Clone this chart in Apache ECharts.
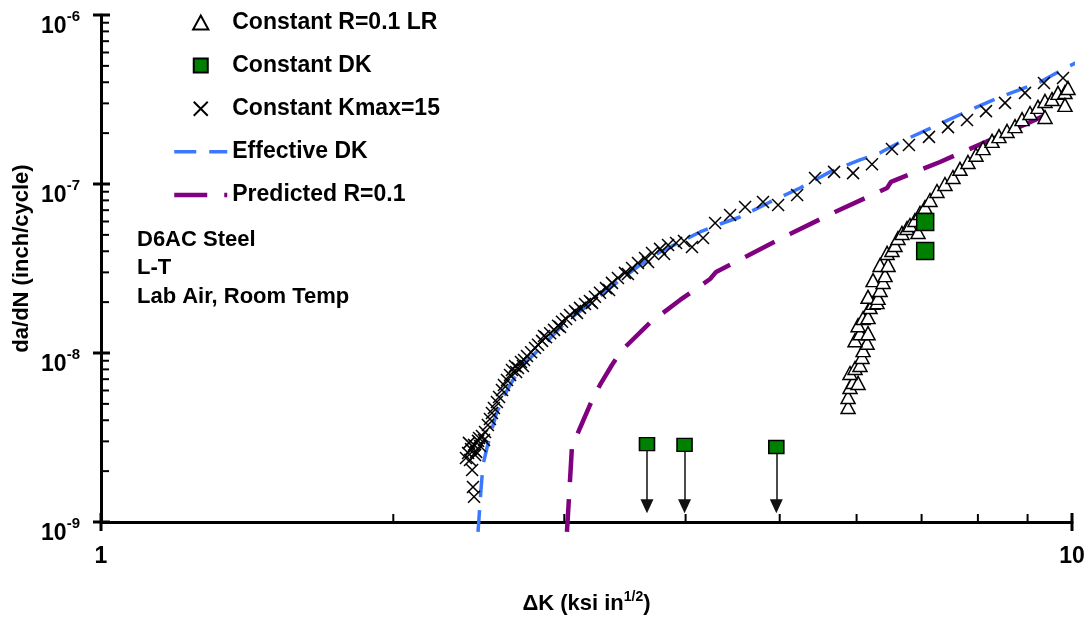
<!DOCTYPE html>
<html>
<head>
<meta charset="utf-8">
<title>D6AC Steel fatigue crack growth</title>
<script src="https://cdn.jsdelivr.net/npm/echarts@6/dist/echarts.min.js"></script>
<style>
html, body { margin: 0; padding: 0; background: #fff; }
#chart { width: 1089px; height: 617px; }
</style>
</head>
<body>
<div id="chart"></div>
<script>
// ---- axis ticks (log decades and their 2..9 subdivisions) ----
const X_MAJOR_TICKS = [1, 10];
const X_MINOR_TICKS = [2, 3, 4, 5, 6, 7, 8, 9];
const Y_DECADES = [1e-9, 1e-8, 1e-7, 1e-6];
const Y_MINOR_MANTISSAS = [2, 3, 4, 5, 6, 7, 8, 9];

// ---- measured data: [ΔK (ksi·in^1/2), da/dN (inch/cycle)] ----
const KMAX15 = [
  [2.422,1.41e-9],[2.416,1.61e-9],[2.411,2.03e-9],[2.399,2.33e-9],[2.376,2.39e-9],[2.388,2.56e-9],
  [2.428,2.49e-9],[2.434,2.60e-9],[2.405,2.70e-9],[2.393,2.94e-9],[2.422,2.86e-9],[2.457,2.82e-9],
  [2.445,3.02e-9],[2.480,3.06e-9],[2.451,3.14e-9],[2.468,3.23e-9],[2.486,3.41e-9],[2.503,3.75e-9],
  [2.515,4.07e-9],[2.527,4.42e-9],[2.539,4.73e-9],[2.557,5.13e-9],[2.570,5.49e-9],[2.588,6.04e-9],
  [2.600,6.47e-9],[2.619,6.92e-9],[2.638,7.41e-9],[2.650,7.93e-9],[2.669,8.38e-9],[2.676,7.72e-9],
  [2.688,8.15e-9],[2.707,8.85e-9],[2.720,8.38e-9],[2.727,9.09e-9],[2.746,9.60e-9],[2.773,1.01e-8],
  [2.799,1.07e-8],[2.819,1.12e-8],[2.846,1.18e-8],[2.859,1.26e-8],[2.873,1.24e-8],[2.901,1.31e-8],
  [2.928,1.37e-8],[2.956,1.45e-8],[2.970,1.425e-8],[2.984,1.53e-8],[3.013,1.59e-8],[3.041,1.68e-8],
  [3.077,1.77e-8],[3.092,1.725e-8],[3.114,1.85e-8],[3.151,1.95e-8],[3.188,2.03e-8],[3.204,1.98e-8],
  [3.226,2.15e-8],[3.265,2.27e-8],[3.312,2.42e-8],[3.336,2.36e-8],[3.359,2.60e-8],[3.407,2.78e-8],
  [3.464,2.98e-8],[3.489,2.935e-8],[3.523,3.18e-8],[3.573,3.41e-8],[3.633,3.65e-8],[3.659,3.455e-8],
  [3.694,3.91e-8],[3.765,4.13e-8],[3.801,3.85e-8],[3.837,4.36e-8],[3.911,4.48e-8],[3.985,4.60e-8],
  [4.061,4.24e-8],[4.169,4.79e-8],[4.290,5.88e-8],[4.445,6.55e-8],[4.606,7.31e-8],[4.806,7.83e-8],
  [4.981,7.51e-8],[5.211,8.61e-8],[5.437,1.085e-7],[5.688,1.18e-7],[5.950,1.16e-7],[6.223,1.31e-7],
  [6.525,1.61e-7],[6.793,1.70e-7],[7.124,1.90e-7],[7.452,2.17e-7],[7.796,2.39e-7],[8.155,2.70e-7],
  [8.531,3.02e-7],[8.945,3.46e-7],[9.357,3.96e-7],[9.789,4.24e-7]
];

const R01_LR = [
  [5.880,4.79e-9],[5.880,5.49e-9],[5.907,6.29e-9],[5.950,6.74e-9],[6.021,6.65e-9],[5.907,7.61e-9],
  [5.978,8.15e-9],[6.049,8.49e-9],[6.078,9.47e-9],[6.093,1.04e-8],[6.151,1.15e-8],[5.978,1.19e-8],
  [6.049,1.31e-8],[6.165,1.31e-8],[6.021,1.46e-8],[6.093,1.61e-8],[6.165,1.63e-8],[6.194,1.87e-8],
  [6.239,1.98e-8],[6.298,2.00e-8],[6.165,2.15e-8],[6.313,2.12e-8],[6.344,2.36e-8],[6.239,2.70e-8],
  [6.389,2.63e-8],[6.419,2.89e-8],[6.344,3.32e-8],[6.465,3.32e-8],[6.450,3.91e-8],[6.525,4.07e-8],
  [6.572,4.36e-8],[6.619,4.79e-8],[6.682,5.13e-8],[6.762,5.49e-8],[6.810,5.72e-8],[6.941,5.20e-8],
  [6.891,6.12e-8],[6.974,6.74e-8],[7.057,7.31e-8],[7.141,8.04e-8],[7.260,9.09e-8],[7.399,1.00e-7],
  [7.541,1.10e-7],[7.667,1.23e-7],[7.814,1.35e-7],[7.964,1.49e-7],[8.098,1.63e-7],[8.273,1.80e-7],
  [8.410,1.92e-7],[8.572,2.06e-7],[8.736,2.20e-7],[8.883,2.42e-7],[9.053,2.63e-7],[9.225,2.86e-7],
  [9.380,3.10e-7],[9.537,3.18e-7],[9.673,3.46e-7],[9.835,3.50e-7],[9.906,3.70e-7],[9.380,2.49e-7],
  [9.835,2.94e-7]
];

const DK_POINTS = [[7.06, 5.96e-8], [7.06, 4.01e-8]];
// constant-ΔK tests that did not grow (runouts), drawn with a downward arrow
const DK_RUNOUTS = [[3.65, 2.89e-9], [3.99, 2.86e-9], [4.96, 2.78e-9]];
const RUNOUT_ARROW_END = 1.24e-9;

const EFFECTIVE_DK = [
  [2.445,8.73e-10],[2.462,1.55e-9],[2.474,2.17e-9],[2.497,2.74e-9],[2.521,3.36e-9],[2.551,4.30e-9],
  [2.594,5.42e-9],[2.638,6.47e-9],[2.688,7.72e-9],[2.740,8.85e-9],[2.806,1.01e-8],[2.887,1.19e-8],
  [2.970,1.41e-8],[3.077,1.68e-8],[3.188,1.95e-8],[3.304,2.30e-8],[3.424,2.70e-8],[3.591,3.32e-8],
  [3.765,3.96e-8],[3.948,4.54e-8],[4.140,5.20e-8],[4.341,5.80e-8],[4.551,6.38e-8],[4.887,7.83e-8],
  [5.247,9.47e-8],[5.633,1.18e-7],[6.049,1.39e-7],[6.344,1.53e-7],[6.651,1.77e-7],[7.312,2.27e-7],
  [7.852,2.74e-7],[8.430,3.27e-7],[9.269,4.01e-7],[9.882,4.92e-7],[10.24,5.42e-7]
];

const PREDICTED_R01 = [
  [3.019,8.73e-10],[3.041,1.77e-9],[3.055,2.78e-9],[3.114,3.60e-9],[3.188,4.92e-9],[3.265,6.47e-9],
  [3.359,8.49e-9],[3.440,1.04e-8],[3.676,1.51e-8],[3.948,2.06e-8],[4.239,2.74e-8],[4.300,3.02e-8],
  [4.606,3.70e-8],[5.123,5.06e-8],[5.700,6.83e-8],[6.450,9.47e-8],[6.511,1.03e-7],[7.312,1.35e-7],
  [8.233,1.82e-7],[9.160,2.39e-7],[9.859,2.94e-7]
];

const NOTES = ['D6AC Steel', 'L-T', 'Lab Air, Room Temp'];

// ---- styling ----
const FONT = "'Liberation Sans', Arial, Helvetica, sans-serif";
const BLUE = '#3b78ff';
const PURPLE = '#800080';
const GREEN = '#008000';
const CROSS = 'path://M0,0L10,10M10,0L0,10';
const TRIANGLE_ICON = 'path://M6,0L12,11L0,11Z';
const SQUARE_ICON = 'path://M0,0L10,0L10,10L0,10Z';
const X_MIN = X_MAJOR_TICKS[0];
const Y_MIN = Y_DECADES[0];
const BLUE_LINE = { color: BLUE, width: 3.5, type: [22, 13], cap: 'butt' };
const PURPLE_LINE = { color: PURPLE, width: 4.5, type: [33, 17], cap: 'butt' };

const Y_MINOR_TICKS = [];
Y_DECADES.slice(0, -1).forEach(d => Y_MINOR_MANTISSAS.forEach(m => Y_MINOR_TICKS.push(m * d)));

function tickSeries(values, onX, draw) {
  return {
    type: 'custom',
    silent: true,
    clip: false,
    z: 6,
    data: values.map(v => onX ? [v, Y_MIN] : [X_MIN, v]),
    renderItem: (params, api) => {
      const p = api.coord([api.value(0), api.value(1)]);
      const s = draw(p);
      return { type: 'line', shape: s.shape, style: { stroke: '#000', lineWidth: s.w } };
    }
  };
}

const chart = echarts.init(document.getElementById('chart'), null, { renderer: 'canvas' });

chart.setOption({
  backgroundColor: '#fff',
  animation: false,
  textStyle: { fontFamily: FONT },
  grid: { left: 101, right: 17, top: 15, bottom: 95, containLabel: false, outerBoundsMode: 'none' },
  legend: {
    orient: 'vertical',
    left: 172,
    top: 11,
    padding: 0,
    itemWidth: 53,
    itemHeight: 14,
    itemGap: 20.1,
    selectedMode: false,
    symbolKeepAspect: true,
    textStyle: { fontSize: 23, fontWeight: 'bold', fontFamily: FONT, color: '#000', lineHeight: 22 },
    data: [
      { name: 'Constant R=0.1 LR', icon: TRIANGLE_ICON },
      { name: 'Constant DK', icon: SQUARE_ICON },
      { name: 'Constant Kmax=15' },
      { name: 'Effective DK', itemStyle: { opacity: 0 }, lineStyle: BLUE_LINE },
      { name: 'Predicted R=0.1', itemStyle: { opacity: 0 }, lineStyle: PURPLE_LINE }
    ]
  },
  xAxis: {
    type: 'log',
    logBase: 10,
    min: 1,
    max: 10,
    axisLine: { show: true, onZero: false, lineStyle: { color: '#000', width: 3 } },
    axisTick: { show: false },
    minorTick: { show: false },
    splitLine: { show: false },
    minorSplitLine: { show: false },
    axisLabel: {
      margin: 23,
      fontSize: 23,
      fontWeight: 'bold',
      fontFamily: FONT,
      color: '#000',
      showMinLabel: true,
      showMaxLabel: true,
      formatter: v => String(Math.round(v))
    },
    name: '{b|ΔK (ksi in}{s|1/2}{b|)}',
    nameLocation: 'middle',
    nameGap: 71,
    nameMoveOverlap: false,
    nameTextStyle: {
      rich: {
        b: { fontSize: 22, fontWeight: 'bold', fontFamily: FONT, color: '#000', lineHeight: 22, verticalAlign: 'bottom' },
        s: { fontSize: 14, fontWeight: 'bold', fontFamily: FONT, color: '#000', lineHeight: 14, padding: [0, 0, 11, 0], verticalAlign: 'bottom' }
      }
    }
  },
  yAxis: {
    type: 'log',
    logBase: 10,
    min: 1e-9,
    max: 1e-6,
    axisLine: { show: true, onZero: false, lineStyle: { color: '#000', width: 3 } },
    axisTick: { show: false },
    minorTick: { show: false },
    splitLine: { show: false },
    minorSplitLine: { show: false },
    axisLabel: {
      margin: 21,
      padding: [23, 0, 0, 0],
      formatter: v => '{b|10}{s|' + Math.round(Math.log10(v)) + '}',
      rich: {
        b: { fontSize: 23, fontWeight: 'bold', fontFamily: FONT, color: '#000', lineHeight: 23, verticalAlign: 'bottom' },
        s: { fontSize: 15, fontWeight: 'bold', fontFamily: FONT, color: '#000', lineHeight: 15, padding: [0, 0, 14, 0], verticalAlign: 'bottom' }
      }
    },
    name: 'da/dN (inch/cycle)',
    nameLocation: 'middle',
    nameGap: 68,
    nameMoveOverlap: false,
    nameTextStyle: { fontSize: 22, fontWeight: 'bold', fontFamily: FONT, color: '#000', padding: [0, 0, 0, 20] }
  },
  graphic: NOTES.map((t, i) => ({
    type: 'text',
    x: 137,
    y: [240, 268, 297][i],
    silent: true,
    style: { text: t, fill: '#000', font: 'bold 22px ' + FONT, verticalAlign: 'middle', align: 'left' }
  })),
  series: [
    {
      name: 'Effective DK',
      type: 'line',
      data: EFFECTIVE_DK,
      symbol: 'none',
      showSymbol: false,
      clip: false,
      z: 2,
      itemStyle: { color: BLUE },
      lineStyle: BLUE_LINE
    },
    {
      name: 'Predicted R=0.1',
      type: 'line',
      data: PREDICTED_R01,
      symbol: 'none',
      showSymbol: false,
      clip: false,
      z: 2,
      itemStyle: { color: PURPLE },
      lineStyle: PURPLE_LINE
    },
    {
      name: 'Constant R=0.1 LR',
      type: 'scatter',
      data: R01_LR,
      symbol: 'triangle',
      symbolSize: [14, 13],
      z: 3,
      itemStyle: { color: '#fff', borderColor: '#000', borderWidth: 1.5, opacity: 1 }
    },
    {
      name: 'Constant Kmax=15',
      type: 'scatter',
      data: KMAX15,
      symbol: CROSS,
      symbolSize: 12,
      z: 4,
      itemStyle: { color: '#000', borderColor: '#000', borderWidth: 1.5, opacity: 1 }
    },
    {
      name: 'Constant DK',
      type: 'scatter',
      data: DK_POINTS,
      symbol: 'rect',
      symbolSize: 17,
      z: 5,
      itemStyle: { color: GREEN, borderColor: '#000', borderWidth: 1.5, opacity: 1 }
    },
    {
      name: 'Constant DK',
      type: 'scatter',
      data: DK_RUNOUTS,
      symbol: 'rect',
      symbolSize: [15, 13],
      z: 5,
      itemStyle: { color: GREEN, borderColor: '#000', borderWidth: 1.5, opacity: 1 },
      markLine: {
        silent: true,
        z: 1,
        symbol: ['none', 'triangle'],
        symbolSize: [13, 14],
        label: { show: false },
        emphasis: { disabled: true },
        lineStyle: { color: '#111', width: 1.5, type: 'solid' },
        data: DK_RUNOUTS.map(p => [{ coord: [p[0], p[1]] }, { coord: [p[0], RUNOUT_ARROW_END] }])
      }
    },
    tickSeries(X_MINOR_TICKS, true, p => ({ shape: { x1: p[0], y1: p[1], x2: p[0], y2: p[1] - 8 }, w: 2 })),
    tickSeries(X_MAJOR_TICKS, true, p => ({ shape: { x1: p[0], y1: p[1] - 9, x2: p[0], y2: p[1] + 9 }, w: 3 })),
    tickSeries(Y_MINOR_TICKS, false, p => ({ shape: { x1: p[0], y1: p[1], x2: p[0] + 8, y2: p[1] }, w: 2 })),
    tickSeries(Y_DECADES, false, p => ({ shape: { x1: p[0] - 8, y1: p[1], x2: p[0] + 9, y2: p[1] }, w: 3 }))
  ]
});
</script>
</body>
</html>
